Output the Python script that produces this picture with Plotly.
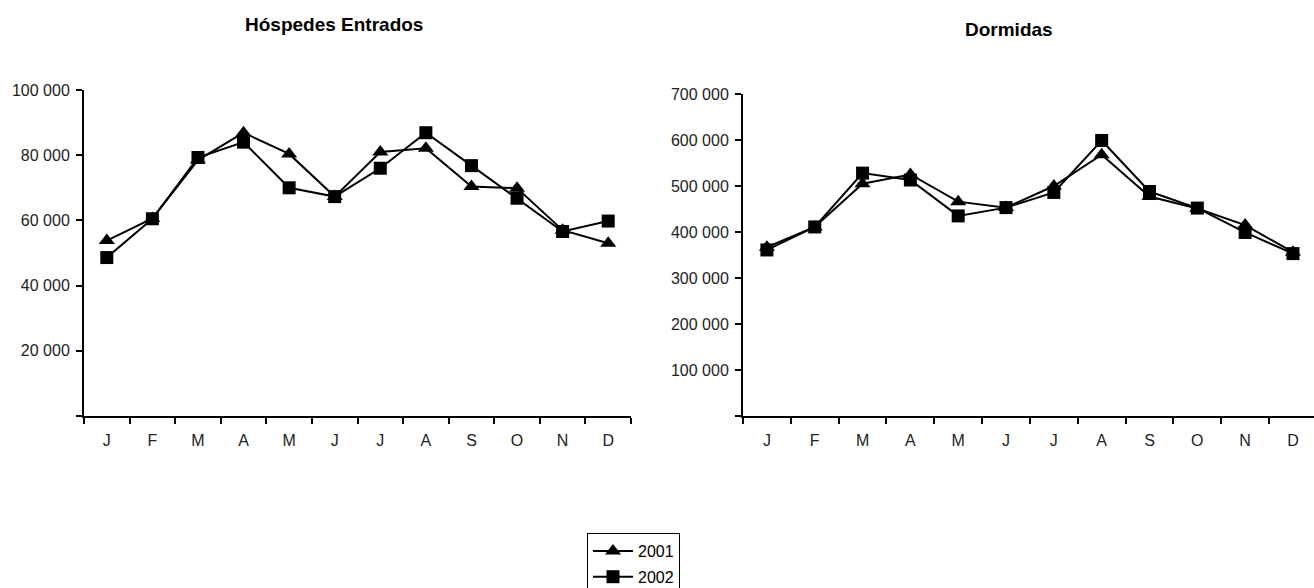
import plotly.graph_objects as go

months = ["J", "F", "M", "A", "M ", "J ", "J  ", "A ", "S", "O", "N", "D"]
month_labels = ["J", "F", "M", "A", "M", "J", "J", "A", "S", "O", "N", "D"]

hospedes_2001 = [53800, 60600, 78500, 86900, 80400, 67300, 81000, 82100, 70400, 69900, 57000, 53000]
hospedes_2002 = [48600, 60500, 79300, 84000, 70000, 67300, 76000, 86900, 76800, 66800, 56600, 59800]

dormidas_2001 = [367000, 411000, 505000, 525000, 466000, 453000, 500000, 568000, 477000, 451000, 415000, 356000]
dormidas_2002 = [361000, 411000, 528000, 513000, 435000, 453000, 486000, 599000, 488000, 452000, 399000, 353000]

years = ["2001", "2002"]

left_ticks = [0, 20000, 40000, 60000, 80000, 100000]
left_ticktext = ["", "20 000", "40 000", "60 000", "80 000", "100 000"]
right_ticks = [0, 100000, 200000, 300000, 400000, 500000, 600000, 700000]
right_ticktext = ["", "100 000", "200 000", "300 000", "400 000", "500 000", "600 000", "700 000"]

W, H = 1314, 588
FONT = "Liberation Sans, Arial, sans-serif"

fig = go.Figure()

styles = [dict(symbol="triangle-up", size=14), dict(symbol="square", size=13)]

for i, (h, d) in enumerate([(hospedes_2001, dormidas_2001), (hospedes_2002, dormidas_2002)]):
    fig.add_trace(go.Scatter(x=months, y=h, name=years[i], mode="lines+markers",
                             line=dict(color="black", width=2),
                             marker=dict(color="black", **styles[i]),
                             xaxis="x", yaxis="y", showlegend=True, legendgroup=years[i]))
    fig.add_trace(go.Scatter(x=months, y=d, name=years[i], mode="lines+markers",
                             line=dict(color="black", width=2),
                             marker=dict(color="black", **styles[i]),
                             xaxis="x2", yaxis="y2", showlegend=False, legendgroup=years[i]))

def yfrac(py):
    return (H - py) / H

common_x = dict(type="category", tickson="boundaries", ticks="outside", ticklen=6,
                tickwidth=2, tickcolor="black", showline=True, linecolor="black", linewidth=2,
                showgrid=False, zeroline=False, tickvals=months, ticktext=month_labels,
                ticklabelstandoff=9, tickangle=0,
                tickfont=dict(family=FONT, size=16, color="#222"))
common_y = dict(ticks="outside", ticklen=6, tickwidth=2, tickcolor="black", showline=True,
                linecolor="black", linewidth=2, showgrid=False, zeroline=False,
                ticklabelstandoff=3,
                tickfont=dict(family=FONT, size=16, color="#222"))

fig.update_layout(
    width=W, height=H,
    margin=dict(l=0, r=0, t=0, b=0, autoexpand=False),
    paper_bgcolor="white", plot_bgcolor="white",
    font=dict(family=FONT, size=16, color="black"),
    xaxis=dict(domain=[84 / W, 631 / W], range=[-0.5, 11.5], anchor="y", **common_x),
    yaxis=dict(domain=[yfrac(416), yfrac(90)], range=[0, 100000], tickvals=left_ticks,
               ticktext=left_ticktext, anchor="x", **common_y),
    xaxis2=dict(domain=[743 / W, 1.0], range=[-0.5, 11.44], anchor="y2", **common_x),
    yaxis2=dict(domain=[yfrac(416), yfrac(94)], range=[0, 700000], tickvals=right_ticks,
                ticktext=right_ticktext, anchor="x2", **common_y),
    legend=dict(x=587 / W, y=yfrac(533),
                xanchor="left", yanchor="top",
                bordercolor="black", borderwidth=1, bgcolor="white",
                font=dict(family=FONT, size=16, color="black"), itemwidth=40,
                tracegroupgap=2),
    showlegend=True,
    annotations=[
        dict(text="<b>Hóspedes Entrados</b>", x=334 / W, y=yfrac(25), xref="paper", yref="paper",
             showarrow=False, xanchor="center", yanchor="middle",
             font=dict(family=FONT, size=19, color="black")),
        dict(text="<b>Dormidas</b>", x=1009 / W, y=yfrac(29), xref="paper", yref="paper",
             showarrow=False, xanchor="center", yanchor="middle",
             font=dict(family=FONT, size=19, color="black")),
    ],
)

fig.write_html("out.html", config={"displayModeBar": False},
               post_script="document.body.style.margin='0';document.body.style.overflow='hidden';")
